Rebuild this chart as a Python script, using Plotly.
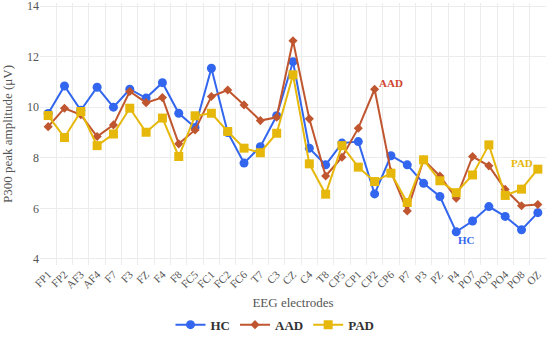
import plotly.graph_objects as go

electrodes = ["FP1", "FP2", "AF3", "AF4", "F7", "F3", "FZ", "F4", "F8", "FC5", "FC1", "FC2",
              "FC6", "T7", "C3", "CZ", "C4", "T8", "CP5", "CP1", "CP2", "CP6", "P7", "P3",
              "PZ", "P4", "PO7", "PO3", "PO4", "PO8", "OZ"]

hc = [9.75, 10.84, 9.88, 10.79, 10.0, 10.71, 10.36, 10.97, 9.76, 9.2, 11.54, 9.0,
      7.79, 8.44, 9.66, 11.8, 8.38, 7.72, 8.58, 8.64, 6.57, 8.08, 7.72, 6.99,
      6.47, 5.07, 5.5, 6.07, 5.68, 5.15, 5.83]
aad = [9.23, 9.96, 9.7, 8.84, 9.3, 10.62, 10.18, 10.38, 8.55, 9.1, 10.42, 10.68,
       10.09, 9.47, 9.6, 12.63, 9.54, 7.28, 8.02, 9.17, 10.71, 7.45, 5.9, 7.92,
       7.28, 6.4, 8.05, 7.68, 6.75, 6.1, 6.15]
pad = [9.67, 8.8, 9.83, 8.48, 8.94, 9.96, 9.01, 9.57, 8.05, 9.66, 9.76, 9.04,
       8.38, 8.2, 8.97, 11.28, 7.76, 6.56, 8.48, 7.63, 7.06, 7.39, 6.23, 7.92,
       7.09, 6.62, 7.32, 8.51, 6.51, 6.76, 7.55]

C_HC = "#3366ee"
C_AAD = "#c0562f"
C_PAD = "#e6b80c"
FONT = "Liberation Serif"

fig = go.Figure()
fig.add_trace(go.Scatter(x=electrodes, y=hc, name="HC", mode="lines+markers",
                         line=dict(color=C_HC, width=2),
                         marker=dict(symbol="circle", size=9, color=C_HC)))
fig.add_trace(go.Scatter(x=electrodes, y=aad, name="AAD", mode="lines+markers",
                         line=dict(color=C_AAD, width=2),
                         marker=dict(symbol="diamond", size=7, color=C_AAD)))
fig.add_trace(go.Scatter(x=electrodes, y=pad, name="PAD", mode="lines+markers",
                         line=dict(color=C_PAD, width=2),
                         marker=dict(symbol="square", size=9, color=C_PAD)))

fig.add_annotation(x=21, y=10.96, text="<b>AAD</b>", showarrow=False,
                   font=dict(family=FONT, size=11, color="#d04530"))
fig.add_annotation(x=29, y=7.8, text="<b>PAD</b>", showarrow=False,
                   font=dict(family=FONT, size=11, color=C_PAD))
fig.add_annotation(x=25.6, y=4.75, text="<b>HC</b>", showarrow=False,
                   font=dict(family=FONT, size=11, color=C_HC))

fig.update_layout(
    width=550, height=340,
    margin=dict(l=40, r=4, t=3, b=75, autoexpand=False),
    paper_bgcolor="white", plot_bgcolor="white",
    font=dict(family=FONT, size=12, color="#555555"),
    showlegend=True,
    legend=dict(orientation="h", x=0.5, xanchor="center", xref="container",
                y=0.045, yanchor="middle", yref="container",
                font=dict(family=FONT, size=13, color="#333333", weight="bold"),
                itemwidth=30),
    xaxis=dict(type="category", tickangle=-45, tickson="boundaries", ticks="",
               automargin=False,
               showgrid=True, gridcolor="#ececec", gridwidth=1,
               showline=False, zeroline=False,
               tickfont=dict(family=FONT, size=11, color="#555555"),
               title=dict(text="EEG electrodes", font=dict(family=FONT, size=13, color="#555555")),
               range=[-0.5, 30.5]),
    yaxis=dict(range=[3.76, 14.12], tickvals=[4, 6, 8, 10, 12, 14],
               automargin=False, ticklabeloverflow="allow",
               showgrid=True, gridcolor="#ececec", gridwidth=1,
               zeroline=False, showline=False, ticks="",
               tickfont=dict(family=FONT, size=12, color="#555555"),
               title=dict(text="P300 peak amplitude (μV)",
                          font=dict(family=FONT, size=13, color="#555555"))),
)

fig.write_html("out.html", config={"displayModeBar": False},
               post_script="document.body.style.margin='0';")
